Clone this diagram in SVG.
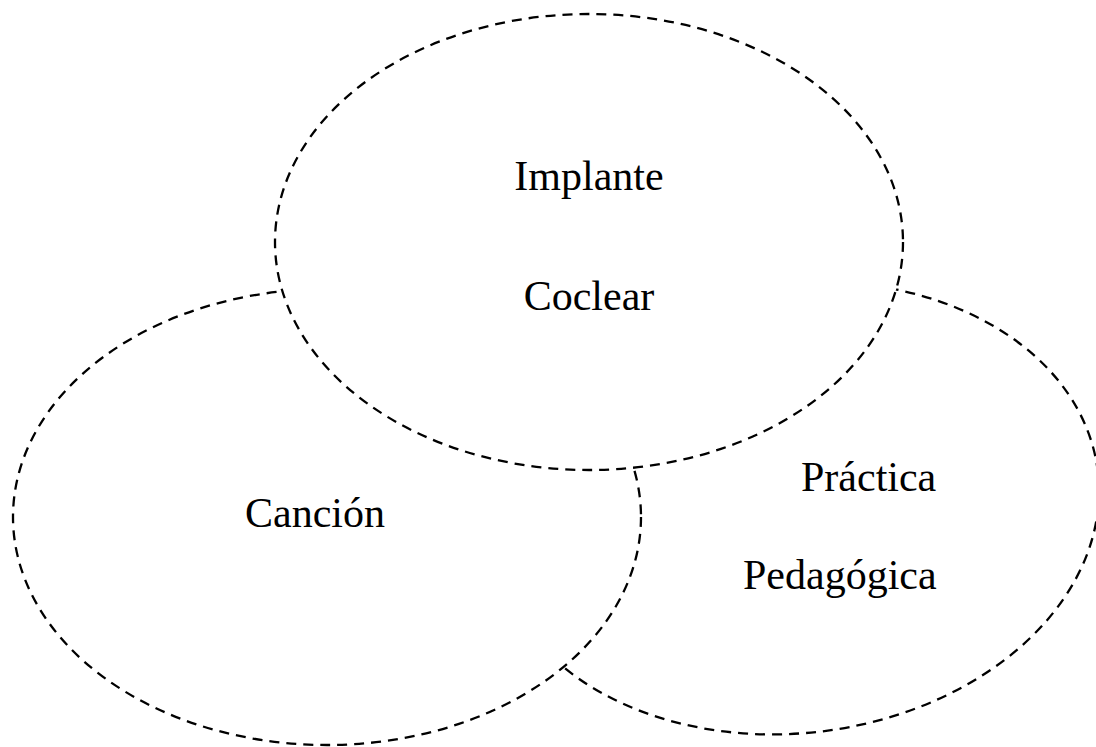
<svg xmlns="http://www.w3.org/2000/svg" width="1096" height="747" viewBox="0 0 1096 747">
<style>
.ring{fill:#fff;stroke:#000;stroke-width:2.3;stroke-dasharray:10 7}
.lbl{font-family:"Liberation Serif","Times New Roman",serif;font-size:42px;fill:#000}
</style>
<rect x="0" y="0" width="1096" height="747" fill="#fff"/>
<g id="connectors"></g>
<g id="node-practica">
<ellipse class="ring" cx="795" cy="508" rx="305" ry="225" transform="rotate(-7 795 508)"/>
<text class="lbl" x="801" y="491">Práctica</text>
<text class="lbl" x="743" y="589">Pedagógica</text>
</g>
<g id="node-cancion">
<ellipse class="ring" cx="327" cy="517" rx="314" ry="228"/>
<text class="lbl" x="245" y="527">Canción</text>
</g>
<g id="node-implante">
<ellipse class="ring" cx="589" cy="242" rx="314" ry="228"/>
<text class="lbl" x="589" y="190" text-anchor="middle">Implante</text>
<text class="lbl" x="589" y="310" text-anchor="middle">Coclear</text>
</g>
</svg>
